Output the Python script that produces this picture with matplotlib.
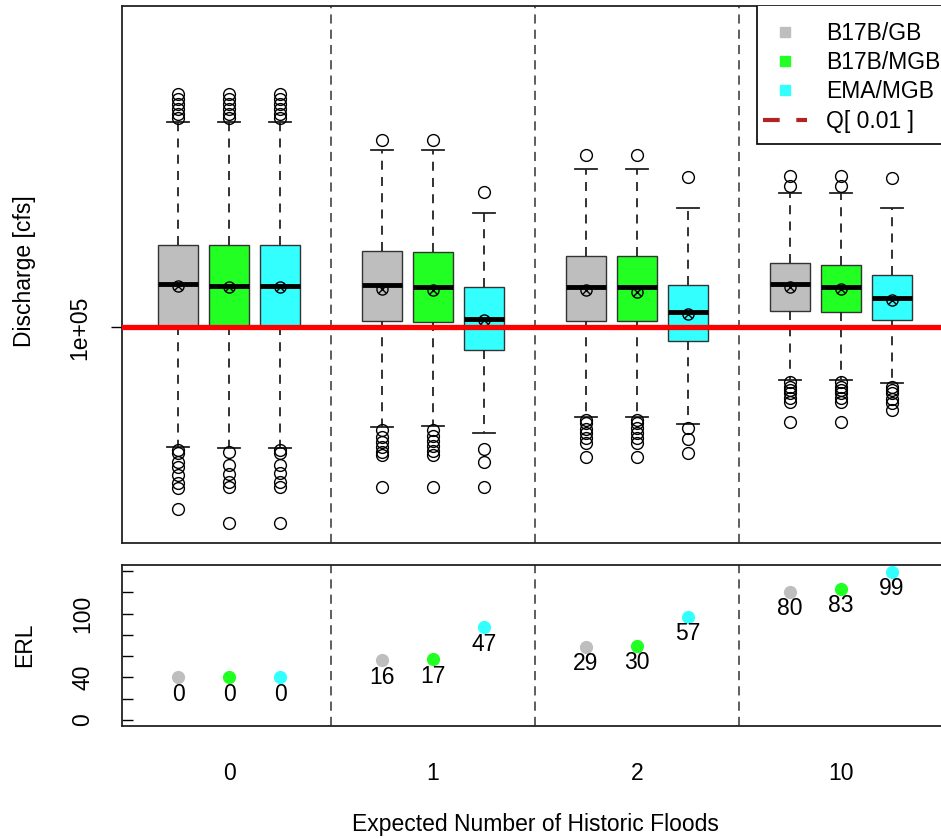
import matplotlib.pyplot as plt
from matplotlib.lines import Line2D
from matplotlib.patches import Rectangle

plt.rcParams['font.family'] = ['Liberation Sans', 'DejaVu Sans']

groups = ["0", "1", "2", "10"]
methods = ["B17B/GB", "B17B/MGB", "EMA/MGB"]
colors = ["#bebebe", "#22ff22", "#33ffff"]

# log10(discharge [cfs]), one row per group, one column per method
whislo = [[4.800, 4.798, 4.798], [4.834, 4.836, 4.824], [4.851, 4.851, 4.838], [4.913, 4.913, 4.907]]
q1 = [[5.002, 5.002, 5.002], [5.010, 5.009, 4.963], [5.011, 5.010, 4.977], [5.028, 5.026, 5.012]]
med = [[5.072, 5.070, 5.070], [5.071, 5.067, 5.015], [5.068, 5.067, 5.026], [5.073, 5.068, 5.050]]
mean = [[5.070, 5.068, 5.068], [5.064, 5.063, 5.013], [5.063, 5.060, 5.023], [5.067, 5.065, 5.046]]
q3 = [[5.138, 5.137, 5.137], [5.128, 5.126, 5.067], [5.120, 5.120, 5.071], [5.107, 5.105, 5.087]]
whishi = [[5.343, 5.343, 5.343], [5.296, 5.296, 5.191], [5.265, 5.265, 5.200], [5.224, 5.224, 5.200]]
fliers = [
    [[5.390, 5.382, 5.373, 5.365, 5.357, 5.350, 4.795, 4.790, 4.775, 4.767, 4.753, 4.740, 4.732, 4.697],
     [5.390, 5.382, 5.373, 5.365, 5.357, 5.350, 4.792, 4.770, 4.756, 4.742, 4.734, 4.674],
     [5.390, 5.382, 5.373, 5.365, 5.357, 5.350, 4.795, 4.790, 4.770, 4.757, 4.742, 4.734, 4.674]],
    [[5.313, 4.828, 4.817, 4.809, 4.800, 4.792, 4.787, 4.733],
     [5.313, 4.828, 4.818, 4.810, 4.802, 4.793, 4.787, 4.733],
     [5.226, 4.797, 4.775, 4.733]],
    [[5.288, 4.846, 4.840, 4.831, 4.823, 4.815, 4.807, 4.783],
     [5.288, 4.846, 4.840, 4.832, 4.823, 4.815, 4.807, 4.783],
     [5.252, 4.832, 4.813, 4.790]],
    [[5.253, 5.237, 4.909, 4.901, 4.895, 4.890, 4.883, 4.876, 4.842],
     [5.253, 5.237, 4.909, 4.901, 4.895, 4.890, 4.883, 4.876, 4.842],
     [5.249, 4.901, 4.895, 4.890, 4.881, 4.874, 4.862]],
]
q_001 = 5.0  # log10(1e+05)

erl = [[40, 40, 40], [56, 57, 87], [69, 70, 97], [120, 123, 139]]
erl_gain = [[0, 0, 0], [16, 17, 47], [29, 30, 57], [80, 83, 99]]

FS = 16.5
W, H = 941, 839
fig = plt.figure(figsize=(W / 100, H / 100), dpi=100)
ax = fig.add_axes([122 / W, 1 - 543 / H, 826 / W, 537 / H])
ax2 = fig.add_axes([122 / W, 1 - 726 / H, 826 / W, 161 / H])

stats, pos, cols = [], [], []
for g in range(len(groups)):
    for m in range(len(methods)):
        stats.append(dict(med=med[g][m], q1=q1[g][m], q3=q3[g][m],
                          whislo=whislo[g][m], whishi=whishi[g][m],
                          fliers=fliers[g][m], mean=mean[g][m]))
        pos.append(4 * g + m + 1)
        cols.append(colors[m])

bp = ax.bxp(stats, positions=pos, widths=0.8, capwidths=0.44, patch_artist=True,
            showmeans=False,
            boxprops=dict(edgecolor='#333333', linewidth=1.0),
            medianprops=dict(color='black', linewidth=3.5, solid_capstyle='butt'),
            whiskerprops=dict(color='#222222', linewidth=1.3, linestyle=(0, (5, 4))),
            capprops=dict(color='#222222', linewidth=1.3),
            flierprops=dict(marker='o', markerfacecolor='none', markeredgecolor='black',
                            markersize=8.5, markeredgewidth=1.0))
for patch, c in zip(bp['boxes'], cols):
    patch.set_facecolor(c)

for s, p in zip(stats, pos):
    ax.plot(p, s['mean'], marker='o', mfc='none', mec='black', ms=8, mew=1.0, zorder=5)
    ax.plot(p, s['mean'], marker='x', color='black', ms=5.5, mew=1.0, zorder=5)

ax.axhline(q_001, color='#ff0000', lw=3.8, zorder=6)

for x in [4, 8, 12]:
    ax.axvline(x, color='#333333', lw=1.1, ls=(0, (6, 4)))
    ax2.axvline(x, color='#333333', lw=1.1, ls=(0, (6, 4)))

ax.set_xlim(-0.1, 16.1)
ax.set_ylim(4.640, 5.537)
ax.set_xticks([])
ax.set_yticks([q_001])
ax.set_yticklabels(["1e+05"], rotation=90, va='center', fontsize=FS)
ax.tick_params(axis='y', direction='out', length=8, width=1, pad=14)

# legend: box drawn separately, entries placed inside it
ax.add_patch(Rectangle(((757 - 122) / 826, (543 - 144) / 537), 0.3, 0.3,
                       transform=ax.transAxes, facecolor='white', edgecolor='black',
                       linewidth=1.2, zorder=7, clip_on=True))
handles = [Line2D([], [], marker='s', ls='none', color=c, ms=7) for c in colors]
handles.append(Line2D([], [], color='#b22222', lw=3, ls=(0, (4, 4))))
leg = ax.legend(handles, methods + ["Q[ 0.01 ]"], loc='upper left',
                bbox_to_anchor=((763 - 122) / 826, (543 - 22) / 537), fontsize=FS,
                frameon=False, borderaxespad=0, borderpad=0, labelspacing=0.27,
                handlelength=1.9, handletextpad=0.85)
leg.set_zorder(8)

# ERL panel
for g in range(len(groups)):
    for m in range(len(methods)):
        p = 4 * g + m + 1
        ax2.plot(p, erl[g][m], 'o', color=colors[m], ms=8.5, zorder=3)
        ax2.annotate(str(erl_gain[g][m]), (p, erl[g][m]), xytext=(0, -12),
                     textcoords='offset points', ha='center', va='center', fontsize=FS)

ax2.set_xlim(-0.1, 16.1)
ax2.set_ylim(-5.6, 145.6)
ax2.set_yticks(range(0, 141, 20))
ax2.set_yticklabels([str(v) if v in (0, 40, 100) else "" for v in range(0, 141, 20)],
                    rotation=90, va='center', fontsize=FS)
ax2.tick_params(axis='y', direction='in', length=8, width=1, pad=20)
ax2.set_xticks([4 * g + 2 for g in range(len(groups))])
ax2.set_xticklabels(groups, fontsize=FS)
ax2.tick_params(axis='x', length=0, pad=26)

for a in (ax, ax2):
    for sp in a.spines.values():
        sp.set_linewidth(1.3)
        sp.set_color('#222222')

fig.text(25 / W, 1 - 271 / H, "Discharge [cfs]", rotation=90, ha='center', va='center', fontsize=FS)
fig.text(25 / W, 1 - 645 / H, "ERL", rotation=90, ha='center', va='center', fontsize=FS)
fig.text(535 / W, 1 - 825 / H, "Expected Number of Historic Floods", ha='center', va='center', fontsize=FS)

fig.savefig("out.png", dpi=100)
